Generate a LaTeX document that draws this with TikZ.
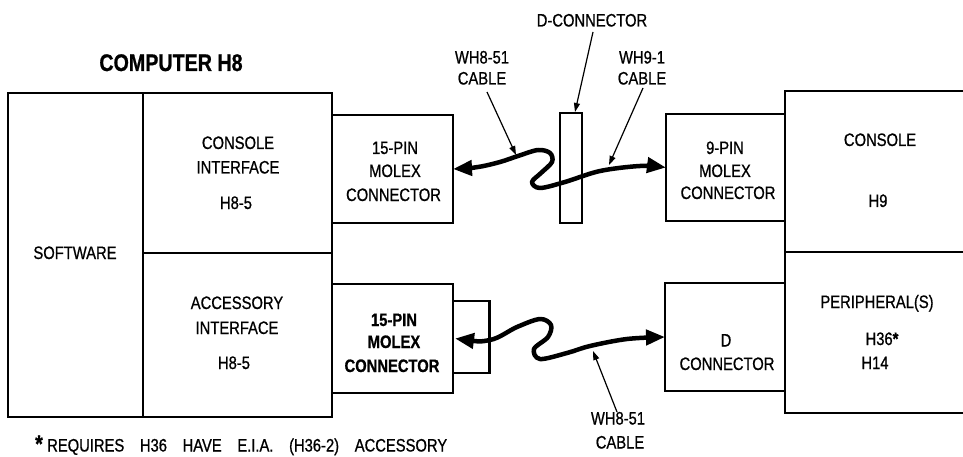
\documentclass[tikz,border=0pt]{standalone}
\usepackage{fontspec}
\setmainfont{Liberation Sans}[FakeStretch=0.82, FakeBold=0.8]
\usetikzlibrary{arrows.meta,calc}
\begin{document}
\begin{tikzpicture}[x=1pt,y=-1pt,
  bx/.style={draw, line width=2.8pt, inner sep=0pt, outer sep=0pt},
  thinbx/.style={draw, line width=1.8pt, inner sep=0pt, outer sep=0pt},
  ghost/.style={draw=none, inner sep=0pt, outer sep=0pt},
  tx/.style={font=\fontsize{18}{22}\selectfont, inner sep=0pt, anchor=base},
  txb/.style={tx, font=\fontsize{18}{22}\selectfont\bfseries},
  cable/.style={line width=4.5pt, line cap=round, line join=round,
    {Triangle[length=19pt,width=15pt]}-{Triangle[length=19pt,width=15pt]}},
  lab/.style={line width=1.2pt, -{Triangle[length=9pt,width=6pt]}},
]
\useasboundingbox (0,0) rectangle (963,457);

% ---- boxes
\node[bx, minimum width=135pt, minimum height=324pt] (sw) at (75.5,255) {};
\node[bx, minimum width=189pt, minimum height=160pt] (ci) at (237.5,173) {};
\node[bx, minimum width=189pt, minimum height=164pt] (ai) at (237.5,335) {};
\node[bx, minimum width=121pt, minimum height=108pt] (m1) at (392.5,169) {};
\node[bx, minimum width=121pt, minimum height=109pt] (m3) at (392.5,338.5) {};
\node[thinbx, minimum width=22pt, minimum height=110pt] (dc) at (571,168) {};
\node[bx, minimum width=119pt, minimum height=107pt] (m2) at (725.5,167.5) {};
\node[bx, minimum width=120pt, minimum height=108pt] (d2) at (725,337) {};
\node[ghost, minimum width=178pt, minimum height=161pt] (con) at (874,171.5) {};
\node[ghost, minimum width=178pt, minimum height=161pt] (per) at (874,332.5) {};
\draw[line width=2.8pt] (con.north east) -- (con.north west) -- (per.south west) -- (per.south east);
\draw[line width=2.8pt] (per.north west) -- (per.north east);

% bracket on lower 15-pin connector
\draw[line width=2.8pt] ($(m3.east)+(0,-37.5)$) -- ++(36.5,0) -- ++(0,72) -- ++(-36.5,0);

% ---- texts
\node[tx, font=\fontsize{24}{28}\selectfont\bfseries] (title) at (171,71) {COMPUTER H8};
\node[tx] (dlab) at (592,26.5) {D-CONNECTOR};
\node[tx] (w1a) at (482,63.5) {WH8-51};
\node[tx] (w1b) at (482,84.5) {CABLE};
\node[tx] (w2a) at (642,63.5) {WH9-1};
\node[tx] (w2b) at (642,84.5) {CABLE};

\node[tx] (ci1) at (238,149) {CONSOLE};
\node[tx] (ci2) at (238,173.5) {INTERFACE};
\node[tx] (ci3) at (236,209) {H8-5};

\node[tx] (m1a) at (395,154) {15-PIN};
\node[tx] (m1b) at (395,177) {MOLEX};
\node[tx] (m1c) at (393.5,201) {CONNECTOR};

\node[tx] (swt) at (75,259) {SOFTWARE};

\node[tx] (ai1) at (237,309) {ACCESSORY};
\node[tx] (ai2) at (237,334) {INTERFACE};
\node[tx] (ai3) at (234,369) {H8-5};

\node[txb] (m3a) at (394,326) {15-PIN};
\node[txb] (m3b) at (394,348) {MOLEX};
\node[txb] (m3c) at (392,372) {CONNECTOR};

\node[tx] (m2a) at (725,154) {9-PIN};
\node[tx] (m2b) at (725,177) {MOLEX};
\node[tx] (m2c) at (728,199) {CONNECTOR};

\node[tx] (co1) at (880,146) {CONSOLE};
\node[tx] (co2) at (878,207) {H9};

\node[tx] (d2a) at (726,346.5) {D};
\node[tx] (d2b) at (727,370) {CONNECTOR};

\node[tx] (pe1) at (877,308) {PERIPHERAL(S)};
\node[tx] (pe2) at (882,345) {H36\textbf{*}};
\node[tx] (pe3) at (875,369) {H14};

\node[tx] (w3a) at (618,424.5) {WH8-51};
\node[tx] (w3b) at (620,448.5) {CABLE};

\node[tx, font=\fontsize{24}{24}\selectfont\bfseries] (star) at (39,452) {*};
\node[tx, anchor=base west] (fn) at (47,451.5)
  {\hbox to 400pt{REQUIRES\hfill H36\hfill HAVE\hfill E.I.A.\hfill (H36-2)\hfill ACCESSORY}};

% ---- cables
\draw[cable] plot[smooth, tension=0.55] coordinates {(m1.east) (478,167) (500,162) (518,156) (538,150) (550,153) (552,162) (541,173) (532,182) (540,188) (565,182) (600,171) (640,166) (m2.west)};
\draw[cable] plot[smooth, tension=0.55] coordinates {([xshift=2pt]m3.east) (490,340) (517,327) (540,319) (551,325) (548,337) (534,349) (540,359) (567,353) (590,346) (627,339) (d2.west)};

% ---- label arrows
\coordinate (a1s) at (487,92);  \coordinate (a1e) at (516,155);
\coordinate (a2s) at (593,32);  \coordinate (a2e) at (575,112);
\coordinate (a3s) at (643,88);  \coordinate (a3e) at (609,165);
\coordinate (a4s) at (617,412); \coordinate (a4e) at (593,351);
\draw[lab] (a1s) -- (a1e);
\draw[lab] (a2s) -- (a2e);
\draw[lab] (a3s) -- (a3e);
\draw[lab] (a4s) -- (a4e);
\end{tikzpicture}
\end{document}
